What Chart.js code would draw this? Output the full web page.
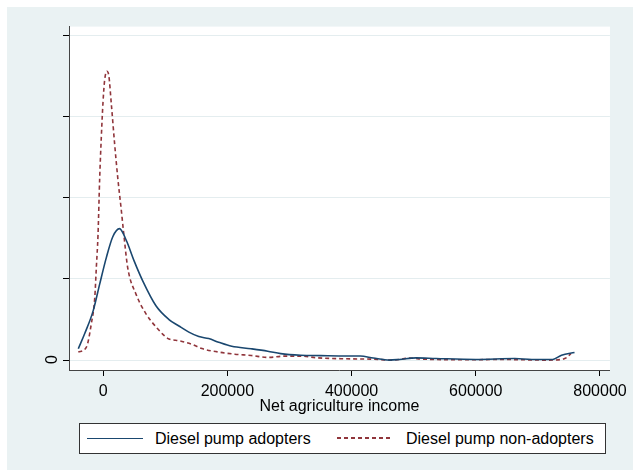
<!DOCTYPE html>
<html>
<head>
<meta charset="utf-8">
<script src="https://cdn.jsdelivr.net/npm/chart.js@4.4.1/dist/chart.umd.min.js"></script>
<style>
  html, body { margin: 0; padding: 0; background: #fff; }
  body { width: 634px; height: 473px; position: relative; overflow: hidden; font-family: "Liberation Sans", Arial, sans-serif; }
  #wrap { position: absolute; left: 7px; top: 7px; width: 626px; height: 463px; background: #eaf2f3; }
  #chart { position: absolute; left: 0; top: 0; }
  #legend {
    position: absolute; left: 72px; top: 416px; width: 527px; height: 31px;
    box-sizing: border-box; border: 1px solid #333; background: #fff;
    font-size: 16px; color: #000;
  }
  .key { position: absolute; top: 14px; height: 0; }
  .lbl { position: absolute; top: 5px; line-height: 19px; white-space: nowrap; }
</style>
</head>
<body>
<div id="wrap">
  <canvas id="chart" width="626" height="463"></canvas>
  <div id="legend"></div>
</div>
<script>
// kernel density estimates (y in tick units)
const adoptX = [-40000, -29500, -16000, -5500, 5000, 15500, 26300, 37000, 50000, 63500, 85000, 106000, 122000, 138000, 154000, 170000, 186000, 207000, 238000, 265000, 286000, 318000, 350000, 392000, 414000, 435000, 461000, 477000, 504000, 536000, 600000, 663000, 690000, 724000, 738000, 759000];
const adoptY = [0.14, 0.33, 0.61, 0.94, 1.26, 1.52, 1.62, 1.48, 1.22, 0.98, 0.67, 0.50, 0.42, 0.345, 0.29, 0.265, 0.22, 0.17, 0.14, 0.11, 0.08, 0.06, 0.055, 0.05, 0.05, 0.025, 0.0, 0.008, 0.028, 0.02, 0.008, 0.02, 0.008, 0.008, 0.06, 0.093];

const nonX = [-40000, -27000, -19000, -13500, -11000, -8300, -5600, -2900, -300, 2400, 6100, 9200, 13000, 18300, 23600, 28900, 33400, 39500, 53000, 69000, 85000, 98000, 106000, 117000, 127000, 143000, 159000, 185500, 212000, 238500, 265000, 292000, 318000, 345000, 392000, 430000, 467000, 493000, 515000, 589000, 637000, 716000, 738000, 748000, 753000];
const nonY = [0.10, 0.16, 0.45, 0.77, 1.14, 1.54, 2.24, 2.76, 3.17, 3.45, 3.56, 3.50, 3.17, 2.68, 2.24, 1.87, 1.54, 1.14, 0.81, 0.57, 0.41, 0.305, 0.26, 0.244, 0.23, 0.195, 0.142, 0.10, 0.073, 0.057, 0.033, 0.049, 0.049, 0.028, 0.016, 0.012, 0.0, 0.024, 0.012, 0.004, 0.008, 0.0, 0.008, 0.04, 0.08];

const seriesNames = ["Diesel pump adopters", "Diesel pump non-adopters"];
const xTickValues = [0, 200000, 400000, 600000, 800000];
const xTitle = "Net agriculture income";

const BLUE = "#1a476f";
const RED = "#90353b";
const FONT = "'Liberation Sans', Arial, sans-serif";

function pairs(xs, ys) {
  return xs.map((x, i) => ({ x: x, y: ys[i] }));
}

/* white plot region */
const plotBg = {
  id: "plotBg",
  beforeDraw(chart) {
    const a = chart.chartArea;
    const ctx = chart.ctx;
    ctx.save();
    ctx.fillStyle = "#fff";
    ctx.fillRect(a.left, a.top, a.right - a.left, a.bottom - a.top);
    ctx.restore();
  }
};

new Chart(document.getElementById("chart"), {
  type: "line",
  data: {
    datasets: [
      {
        label: seriesNames[0],
        data: pairs(adoptX, adoptY),
        borderColor: BLUE,
        borderWidth: 1.6,
        pointRadius: 0,
        fill: false,
        cubicInterpolationMode: "monotone"
      },
      {
        label: seriesNames[1],
        data: pairs(nonX, nonY),
        borderColor: RED,
        borderWidth: 1.6,
        borderDash: [4, 3],
        pointRadius: 0,
        fill: false,
        cubicInterpolationMode: "monotone"
      }
    ]
  },
  options: {
    responsive: false,
    animation: false,
    layout: { padding: { top: 16, right: 17, left: 0, bottom: 54 } },
    plugins: { legend: { display: false }, tooltip: { enabled: false } },
    scales: {
      x: {
        type: "linear",
        min: -55000,
        max: 816000,
        afterBuildTicks: (s) => { s.ticks = xTickValues.map(v => ({ value: v })); },
        afterFit: (s) => { s.height = 46; },
        grid: { drawOnChartArea: false, tickColor: "#000", tickLength: 6 },
        border: { color: "#444", width: 1 },
        ticks: { color: "#000", font: { family: FONT, size: 16 }, padding: 6, maxRotation: 0, callback: v => String(v) },
        title: { display: true, text: xTitle, color: "#000", font: { family: FONT, size: 16 }, padding: 0 }
      },
      y: {
        type: "linear",
        min: -0.122,
        max: 4.11,
        afterFit: (s) => { s.width = 62; },
        grid: { color: "#e4edef", lineWidth: 1, tickColor: "#000", tickLength: 6 },
        border: { color: "#444", width: 1 },
        ticks: {
          stepSize: 1,
          includeBounds: false,
          color: "#000",
          font: { family: FONT, size: 16 },
          padding: 10,
          minRotation: 90,
          maxRotation: 90,
          labelOffset: -5,
          callback: v => (v === 0 ? "0" : "")
        }
      }
    }
  },
  plugins: [plotBg]
});

/* legend */
const legend = document.getElementById("legend");
const legendItems = [
  { name: seriesNames[0], color: BLUE, dash: false, keyLeft: 7, textLeft: 75 },
  { name: seriesNames[1], color: RED, dash: true, keyLeft: 257, textLeft: 326 }
];
legendItems.forEach(it => {
  const key = document.createElement("div");
  key.className = "key";
  key.style.left = it.keyLeft + "px";
  key.style.width = "56px";
  key.style.borderTop = it.dash ? "0" : "1.6px solid " + it.color;
  if (it.dash) {
    key.style.height = "1.6px";
    key.style.top = "13px";
    key.style.background = "repeating-linear-gradient(90deg," + it.color + " 0 4px, transparent 4px 7px)";
  }
  legend.appendChild(key);
  const lbl = document.createElement("span");
  lbl.className = "lbl";
  lbl.style.left = it.textLeft + "px";
  lbl.textContent = it.name;
  legend.appendChild(lbl);
});
</script>
</body>
</html>
